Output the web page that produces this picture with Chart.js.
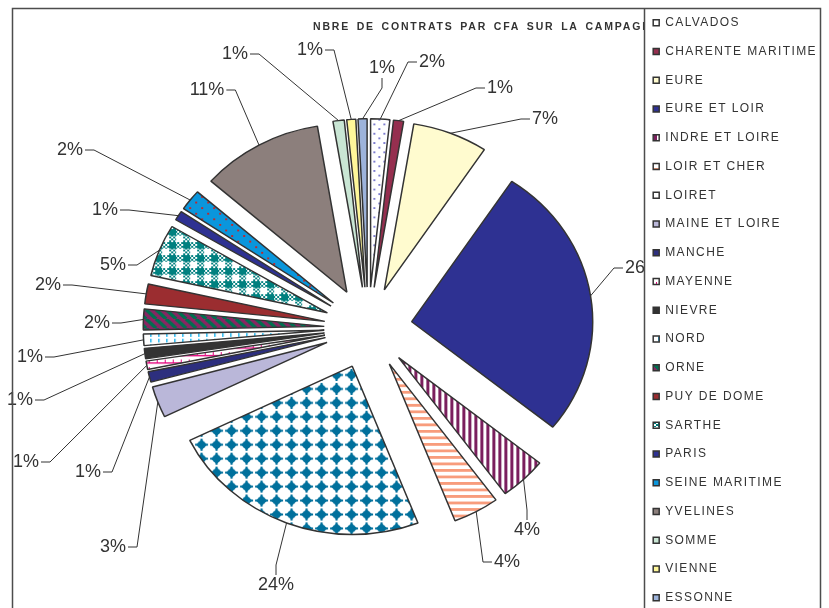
<!DOCTYPE html>
<html>
<head>
<meta charset="utf-8">
<script src="https://cdn.jsdelivr.net/npm/chart.js@4.4.1/dist/chart.umd.min.js"></script>
<style>
  html, body { margin: 0; padding: 0; background: #fff; overflow: hidden; }
  #wrap { width: 829px; height: 608px; overflow: hidden; }
  canvas { display: block; }
</style>
</head>
<body>
<div id="wrap"><canvas id="pie-chart" width="829" height="660"></canvas></div>
<script>
const TITLE = 'NBRE DE CONTRATS PAR CFA SUR LA CAMPAGNE';
const departements = ['CALVADOS', 'CHARENTE MARITIME', 'EURE', 'EURE ET LOIR', 'INDRE ET LOIRE',
  'LOIR ET CHER', 'LOIRET', 'MAINE ET LOIRE', 'MANCHE', 'MAYENNE', 'NIEVRE', 'NORD', 'ORNE',
  'PUY DE DOME', 'SARTHE', 'PARIS', 'SEINE MARITIME', 'YVELINES', 'SOMME', 'VIENNE', 'ESSONNE'];
// share of the contracts (%)
const contrats = [1.7, 0.9, 6.7, 26.4, 4.2, 4.1, 23.6, 3.0, 1.0, 0.8, 1.0, 1.1, 2.0,
  1.9, 5.0, 0.9, 2.0, 10.9, 1.0, 0.8, 0.8];

// where Excel put each percentage label: text centre x, y and the side the leader leaves from
const labelAt = [[432, 62, 'l'], [500, 88, 'l'], [545, 119, 'l'], [643, 268, 'l'], [527, 530, 't'],
  [507, 562, 'l'], [276, 585, 't'], [113, 547, 'r'], [88, 472, 'r'], [26, 462, 'r'], [20, 400, 'r'],
  [30, 357, 'r'], [97, 323, 'r'], [48, 285, 'r'], [113, 265, 'r'], [105, 210, 'r'], [70, 150, 'r'],
  [207, 90, 'r'], [235, 54, 'r'], [310, 50, 'r'], [382, 68, 'b']];

const EXPLODE = 44;   // px each slice is pulled out
const SQUISH = 0.93;  // the original pie is a little flatter than round

function pattern(w, h, paint) {
  const c = document.createElement('canvas');
  c.width = w; c.height = h;
  const g = c.getContext('2d');
  g.fillStyle = '#ffffff';
  g.fillRect(0, 0, w, h);
  paint(g);
  return g.createPattern(c, 'repeat');
}
function dots(bg, fg, w, pts) {
  return pattern(w, w, g => {
    g.fillStyle = bg; g.fillRect(0, 0, w, w);
    g.fillStyle = fg; pts.forEach(p => g.fillRect(p[0], p[1], 2, 2));
  });
}

const fills = [
  dots('#ffffff', '#7d7dcf', 10, [[1, 2], [6, 7]]),
  '#952f4f',
  '#fffbcf',
  '#2e3192',
  pattern(6, 6, g => { g.fillStyle = '#7b1f5e'; g.fillRect(0, 0, 3, 6); }),
  pattern(7, 7, g => { g.fillStyle = '#f89c7c'; g.fillRect(0, 0, 7, 3); }),
  pattern(15, 15, g => {
    g.fillStyle = '#00709c';
    g.beginPath(); g.moveTo(7.5, 1.8); g.lineTo(13.2, 7.5); g.lineTo(7.5, 13.2); g.lineTo(1.8, 7.5);
    g.closePath(); g.fill();
    g.fillRect(6.5, 1, 2, 13); g.fillRect(1, 6.5, 13, 2);
    g.fillRect(4.5, 4.5, 6, 6);
  }),
  '#bab7d9',
  '#2d2f7e',
  pattern(8, 8, g => { g.fillStyle = '#e4007c'; g.fillRect(0, 5, 8, 1.5); g.fillRect(0, 2, 1, 4); }),
  '#333333',
  pattern(8, 6, g => { g.fillStyle = '#22b5ee'; g.fillRect(2, 1, 1.5, 4); }),
  pattern(10, 10, g => {
    g.fillStyle = '#8a2563'; g.fillRect(0, 0, 10, 10);
    g.strokeStyle = '#007050'; g.lineWidth = 3.5;
    g.beginPath();
    [-10, 0, 10].forEach(k => { g.moveTo(k, 0); g.lineTo(k + 10, 10); });
    g.stroke();
  }),
  '#9b2d30',
  pattern(14, 14, g => {
    g.fillStyle = '#00807f';
    for (let y = 0; y < 14; y++) {
      for (let x = 0; x < 14; x++) {
        const v = x < 7, h = y < 7;
        if ((v && h) || ((v || h) && (Math.floor(x / 2) + Math.floor(y / 2)) % 2 === 0)) g.fillRect(x, y, 1, 1);
      }
    }
  }),
  '#2e3192',
  dots('#0a96dc', '#c0282d', 12, [[2, 3], [8, 9]]),
  '#8c7f7c',
  '#c9e6d4',
  '#fff799',
  '#9db3db'
];

// exploded pie: push every arc out along its bisector (Chart.js offset also shrinks thin slices)
const ArcElement = Chart.ArcElement || Chart.elements.ArcElement;
const baseArcDraw = ArcElement.prototype.draw;
ArcElement.prototype.draw = function (ctx) {
  const mid = (this.startAngle + this.endAngle) / 2;
  ctx.save();
  ctx.translate(this.x, this.y);
  ctx.scale(1, SQUISH);
  ctx.translate(Math.cos(mid) * EXPLODE - this.x, Math.sin(mid) * EXPLODE - this.y);
  baseArcDraw.call(this, ctx);
  ctx.restore();
};

function arcPoint(arc, angle, r) {
  const mid = (arc.startAngle + arc.endAngle) / 2;
  return [arc.x + Math.cos(mid) * EXPLODE + Math.cos(angle) * r,
    arc.y + (Math.sin(mid) * EXPLODE + Math.sin(angle) * r) * SQUISH];
}

const LEGEND_SPACING = '1.4px';

const excelFrame = {
  id: 'excelFrame',
  beforeLayout(chart) {
    chart.ctx.letterSpacing = LEGEND_SPACING;
  },
  beforeDraw(chart) {
    const ctx = chart.ctx;
    const arcs = chart.getDatasetMeta(0).data;
    const total = contrats.reduce((a, b) => a + b, 0);
    ctx.save();

    ctx.letterSpacing = '1.8px';
    ctx.wordSpacing = '2px';
    ctx.font = 'bold 10.5px "Liberation Sans", Arial, sans-serif';
    ctx.fillStyle = '#333333';
    ctx.textAlign = 'left';
    ctx.textBaseline = 'alphabetic';
    ctx.fillText(TITLE, 313, 30);
    ctx.letterSpacing = '0px';
    ctx.wordSpacing = '0px';

    ctx.font = '18px "Liberation Sans", Arial, sans-serif';
    ctx.textAlign = 'center';
    ctx.textBaseline = 'middle';
    ctx.strokeStyle = '#333333';
    ctx.lineWidth = 1;
    arcs.forEach((arc, i) => {
      const [lx, ly, side] = labelAt[i];
      const txt = Math.round(contrats[i] / total * 100) + '%';
      const w = ctx.measureText(txt).width;
      const mid = (arc.startAngle + arc.endAngle) / 2;
      const end = arcPoint(arc, mid, arc.outerRadius);
      let a, b;
      if (side === 'l') { a = [lx - w / 2 - 2, ly]; b = [a[0] - 9, ly]; }
      else if (side === 'r') { a = [lx + w / 2 + 2, ly]; b = [a[0] + 9, ly]; }
      else if (side === 't') { a = [lx, ly - 10]; b = [lx, ly - 20]; }
      else { a = [lx, ly + 10]; b = [lx, ly + 20]; }
      ctx.beginPath();
      ctx.moveTo(a[0], a[1]);
      ctx.lineTo(b[0], b[1]);
      ctx.lineTo(end[0], end[1]);
      ctx.stroke();
      ctx.fillText(txt, lx, ly);
    });

    // legend panel and chart frame
    const bx = Math.round(chart.legend.left) + 8.5;
    ctx.fillStyle = '#ffffff';
    ctx.fillRect(bx, 8, 820.5 - bx, chart.height);
    ctx.strokeStyle = '#4d4d4d';
    ctx.lineWidth = 1.5;
    ctx.beginPath();
    ctx.moveTo(12.5, chart.height); ctx.lineTo(12.5, 8.5); ctx.lineTo(820.5, 8.5); ctx.lineTo(820.5, chart.height);
    ctx.moveTo(bx, 8.5); ctx.lineTo(bx, chart.height);
    ctx.stroke();
    ctx.restore();
    ctx.letterSpacing = LEGEND_SPACING;
  }
};

new Chart(document.getElementById('pie-chart'), {
  type: 'pie',
  data: {
    labels: departements,
    datasets: [{
      data: contrats,
      backgroundColor: fills,
      borderColor: '#333333',
      borderWidth: 1.5,
      clip: false
    }]
  },
  options: {
    responsive: false,
    animation: false,
    events: [],
    radius: 181,
    layout: { padding: { left: 100, right: 2, top: 0, bottom: 4 } },
    plugins: {
      legend: {
        position: 'right',
        align: 'start',
        labels: {
          boxWidth: 6,
          boxHeight: 6,
          padding: 16.75,
          color: '#333333',
          font: { family: '"Liberation Sans", Arial, sans-serif', size: 12 }
        }
      },
      tooltip: { enabled: false }
    }
  },
  plugins: [excelFrame]
});
</script>
</body>
</html>
